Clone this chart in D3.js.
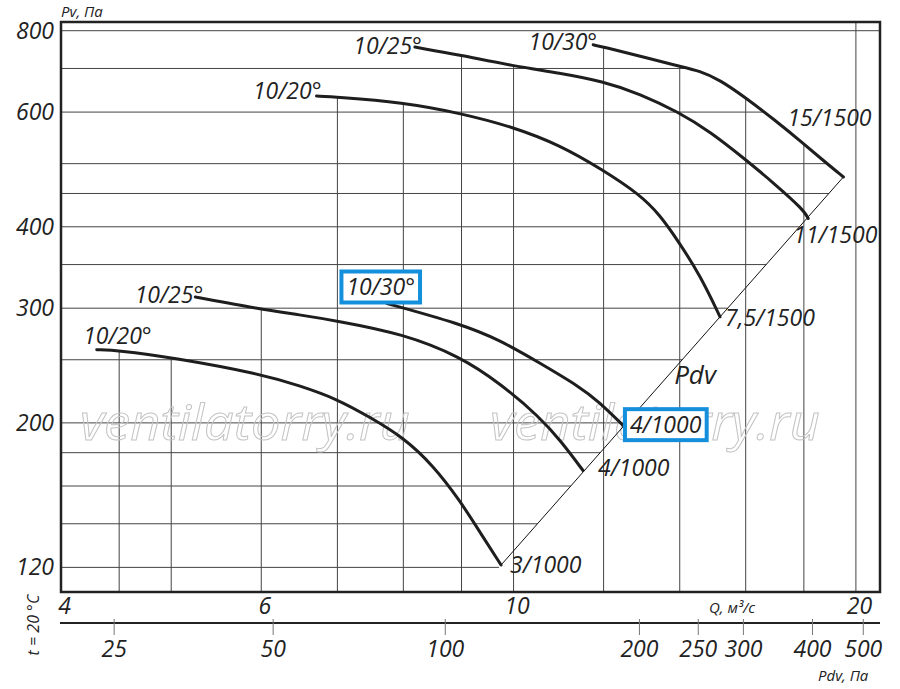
<!DOCTYPE html>
<html>
<head>
<meta charset="utf-8">
<script src="https://cdn.jsdelivr.net/npm/d3@7"></script>
<style>
  body { margin: 0; background: #fff; }
  svg { display: block; font-family: "Open Sans", sans-serif; font-style: italic; }
</style>
</head>
<body>
<svg id="chart" width="900" height="689"></svg>
<script>
// fan curves: Q in m3/s, Pv in Pa
const angles = ["10/20°", "10/25°", "10/30°"];
const motors1000 = ["3/1000", "4/1000", "4/1000"];
const motors1500 = ["7,5/1500", "11/1500", "15/1500"];

const q1000_20 = [4.30, 4.49, 5.01, 5.98, 6.49, 6.98, 7.48, 8.00, 8.50, 8.97, 9.34, 9.75];
const pv1000_20 = [259, 258.5, 252, 238, 228, 218, 204, 190, 172, 152, 136, 121];
const q1000_25 = [5.25, 5.98, 6.49, 6.98, 8.00, 8.97, 9.73, 10.55, 11.02, 11.51];
const pv1000_25 = [312, 299, 293, 287, 274, 253, 230, 204, 187, 169];
const q1000_30 = [7.74, 8.97, 9.73, 10.55, 11.44, 11.87, 12.53];
const pv1000_30 = [305, 284, 268, 247, 227, 216, 197];

const q1500_20 = [6.71, 6.98, 7.99, 8.97, 10.0, 10.98, 11.96, 12.92, 13.45, 13.96, 14.59, 15.19];
const pv1500_20 = [635, 633, 621, 598, 569, 534, 490, 448, 417, 380, 337, 291];
const q1500_25 = [8.19, 8.97, 10.0, 10.98, 11.98, 12.92, 13.96, 14.89, 15.98, 16.98, 17.98, 18.16];
const pv1500_25 = [755, 734, 706, 689, 669, 640, 600, 560, 508, 465, 425, 412];
const q1500_30 = [11.75, 11.98, 12.92, 13.96, 14.59, 15.19, 15.98, 16.98, 17.98, 18.71, 19.5];
const pv1500_30 = [761, 756, 731, 706, 694, 672, 632, 583, 537, 506, 477];

const qTicks = [4, 6, 10, 20];
const qGrid = [4.5, 5, 6, 7, 8, 9, 10, 12, 14, 16, 18, 20];
const pvTicks = [120, 200, 300, 400, 600, 800];
const pvGrid = [120, 140, 160, 180, 200, 250, 300, 350, 400, 450, 500, 600, 700, 800];
const pdvTicks = [25, 50, 100, 200, 250, 300, 400, 500];
// Q value under each Pdv tick, as drawn on the chart
const pdvAtQ = [4.45, 6.14, 8.70, 12.89, 14.52, 15.91, 18.30, 20.28];

const svg = d3.select("#chart");

const x = d3.scaleLog().domain([4, 21]).range([61, 880]);
const y = d3.scaleLog().domain([110, 825]).range([592, 22]);
const xPdv = d3.scaleLog().domain(pdvTicks).range(pdvAtQ.map(x));

const zip = (q, p) => q.map((d, i) => [d, p[i]]);
const curves = [
  { angle: angles[0], motor: motors1000[0], pts: zip(q1000_20, pv1000_20) },
  { angle: angles[1], motor: motors1000[1], pts: zip(q1000_25, pv1000_25) },
  { angle: angles[2], motor: motors1000[2], pts: zip(q1000_30, pv1000_30), boxed: true },
  { angle: angles[0], motor: motors1500[0], pts: zip(q1500_20, pv1500_20) },
  { angle: angles[1], motor: motors1500[1], pts: zip(q1500_25, pv1500_25) },
  { angle: angles[2], motor: motors1500[2], pts: zip(q1500_30, pv1500_30) }
];

// label offsets in px from curve start (angle) and curve end (motor)
const angleOff = [[55, -6], [8, 6], [28, -8], [5, 3], [7, 7], [4, 5]];
const motorOff = [[9, 8], [15, 5], [5, 6], [5, 9], [-15, 25], [-56, -51]];

// log-log interpolation of Pv on a curve, null outside it
function pvAt(pts, q) {
  if (q < pts[0][0] || q > pts[pts.length - 1][0]) return null;
  for (let i = 1; i < pts.length; i++) {
    const [q0, p0] = pts[i - 1], [q1, p1] = pts[i];
    if (q <= q1) {
      const t = Math.log(q / q0) / Math.log(q1 / q0);
      return Math.exp(Math.log(p0) + t * Math.log(p1 / p0));
    }
  }
  return null;
}
function qAt(pts, p) {
  for (let i = 1; i < pts.length; i++) {
    const [q0, p0] = pts[i - 1], [q1, p1] = pts[i];
    if (p <= p0 && p >= p1) {
      const t = Math.log(p / p0) / Math.log(p1 / p0);
      return Math.exp(Math.log(q0) + t * Math.log(q1 / q0));
    }
  }
  return Infinity;
}

// Pdv line joins the end of the smallest and the largest curve
const diagA = curves[0].pts[curves[0].pts.length - 1];
const diagB = curves[5].pts[curves[5].pts.length - 1];
const diagQ = p => Math.exp(Math.log(diagA[0]) +
  Math.log(p / diagA[1]) * Math.log(diagB[0] / diagA[0]) / Math.log(diagB[1] / diagA[1]));

// grid
const grid = svg.append("g").attr("stroke", "#444").attr("stroke-width", 1);
grid.selectAll("line.v")
  .data(qGrid)
  .join("line")
  .attr("class", "v")
  .attr("x1", d => x(d)).attr("x2", d => x(d))
  .attr("y1", y(110))
  .attr("y2", d => {
    const tops = curves.map(c => pvAt(c.pts, d)).filter(v => v !== null);
    return tops.length ? y(d3.max(tops)) : y(825);
  });
grid.selectAll("line.h")
  .data(pvGrid)
  .join("line")
  .attr("class", "h")
  .attr("y1", d => y(d)).attr("y2", d => y(d))
  .attr("x1", x(4))
  .attr("x2", d => x(Math.min(21, diagQ(d), qAt(curves[5].pts, d))));

// watermark
svg.append("g")
  .selectAll("text")
  .data([80, 490])
  .join("text")
  .attr("x", d => d)
  .attr("y", 440)
  .attr("font-size", 50)
  .attr("textLength", 330)
  .attr("lengthAdjust", "spacingAndGlyphs")
  .attr("fill", "none")
  .attr("stroke", "#c4c4c4")
  .attr("stroke-width", 1)
  .text("ventilatorry.ru");

// frame
svg.append("rect")
  .attr("x", x(4)).attr("y", y(825))
  .attr("width", x(21) - x(4)).attr("height", y(110) - y(825))
  .attr("fill", "none").attr("stroke", "#222").attr("stroke-width", 2.5);

// Pdv diagonal
svg.append("line")
  .attr("x1", x(diagA[0])).attr("y1", y(diagA[1]))
  .attr("x2", x(diagB[0])).attr("y2", y(diagB[1]))
  .attr("stroke", "#111").attr("stroke-width", 1);

// curves
const line = d3.line()
  .x(d => x(d[0]))
  .y(d => y(d[1]))
  .curve(d3.curveBasis);
svg.append("g")
  .selectAll("path")
  .data(curves)
  .join("path")
  .attr("d", d => line(d.pts))
  .attr("fill", "none")
  .attr("stroke", "#1e1e1e")
  .attr("stroke-width", 3)
  .attr("stroke-linecap", "round");

// curve labels
const labels = svg.append("g").attr("font-size", 23).attr("fill", "#222");
function addLabel(txt, px, py, anchor, boxed) {
  const g = labels.append("g");
  const t = g.append("text")
    .attr("x", px).attr("y", py)
    .attr("text-anchor", anchor)
    .text(txt);
  if (boxed) {
    const b = t.node().getBBox();
    g.insert("rect", "text")
      .attr("x", b.x - 5).attr("y", b.y + 1)
      .attr("width", b.width + 10).attr("height", b.height - 1)
      .attr("fill", "#fff")
      .attr("stroke", "#138fdc")
      .attr("stroke-width", 4);
  }
}
curves.forEach((c, i) => {
  const s = c.pts[0], e = c.pts[c.pts.length - 1];
  addLabel(c.angle, x(s[0]) + angleOff[i][0], y(s[1]) + angleOff[i][1], "end", c.boxed);
  addLabel(c.motor, x(e[0]) + motorOff[i][0], y(e[1]) + motorOff[i][1], "start", c.boxed);
});
labels.append("text")
  .attr("x", x(diagQ(250)) - 8).attr("y", y(250) + 24)
  .attr("font-size", 26)
  .text("Pdv");

// axes
const yAxis = svg.append("g")
  .attr("transform", `translate(${x(4)},0)`)
  .call(d3.axisLeft(y).tickValues(pvTicks).tickSize(0).tickPadding(7).tickFormat(d3.format("d")));
const qAxis = svg.append("g")
  .attr("transform", `translate(0,${y(110)})`)
  .call(d3.axisBottom(x).tickValues(qTicks).tickSize(0).tickPadding(6).tickFormat(d3.format("d")));
qAxis.selectAll("text").attr("dx", 3);

const pdvY = 623;
svg.append("line")
  .attr("x1", x(4) - 1).attr("x2", x(21))
  .attr("y1", pdvY).attr("y2", pdvY)
  .attr("stroke", "#222").attr("stroke-width", 2);
const pdvAxis = svg.append("g")
  .attr("transform", `translate(0,${pdvY})`)
  .call(d3.axisBottom(xPdv).tickValues(pdvTicks).tickSizeInner(12).tickSizeOuter(0).tickPadding(6).tickFormat(d3.format("d")));
pdvAxis.selectAll(".tick line").attr("y1", -4).attr("stroke", "#777");

[yAxis, qAxis, pdvAxis].forEach(g => {
  g.select(".domain").remove();
  g.selectAll("text")
    .attr("font-family", "Open Sans, sans-serif")
    .attr("font-size", 23)
    .attr("fill", "#222");
});

// axis titles
const titles = svg.append("g").attr("font-size", 15).attr("fill", "#222");
titles.append("text").attr("x", 61).attr("y", 17).text("Pv, Па");
titles.append("text").attr("x", 709).attr("y", 613).text("Q, м³/с");
titles.append("text").attr("x", 818).attr("y", 681).text("Pdv, Па");
titles.append("text")
  .attr("transform", "translate(39,625) rotate(-90)")
  .attr("text-anchor", "middle")
  .attr("font-size", 16)
  .text("t = 20 °C");
</script>
</body>
</html>
